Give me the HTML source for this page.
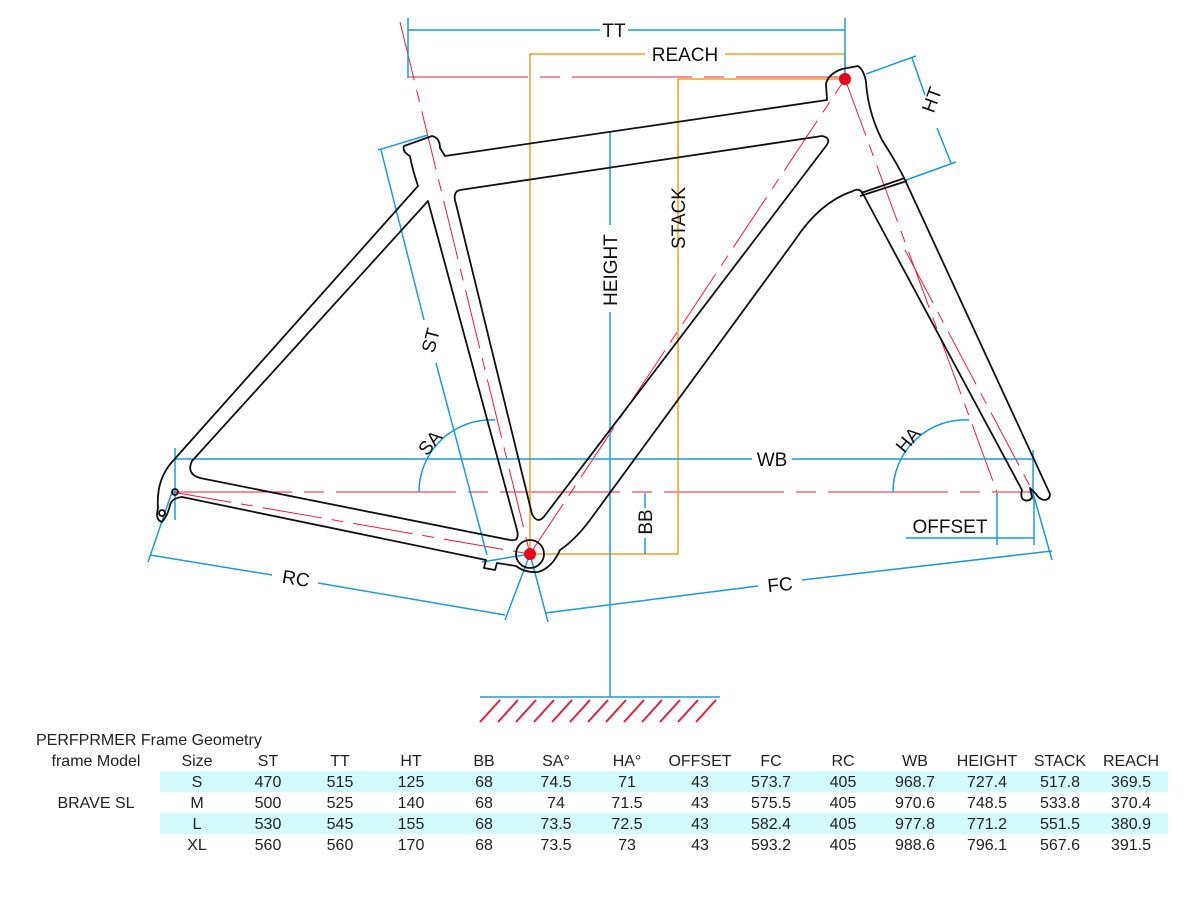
<!DOCTYPE html>
<html><head><meta charset="utf-8"><style>
body{margin:0;background:#fff;width:1200px;height:900px;overflow:hidden}
svg{position:absolute;left:0;top:0}
.t{font-family:"Liberation Sans Narrow","Liberation Sans",sans-serif;font-size:16px;fill:#222}
.l{font-family:"Liberation Sans",sans-serif;font-size:19px;fill:#111}
</style></head><body>
<svg width="1200" height="900" viewBox="0 0 1200 900">
<rect x="160" y="771" width="1008" height="21" fill="#d4fbfb"/>
<rect x="160" y="813" width="1008" height="21" fill="#d4fbfb"/>
<g fill="none" stroke-width="1.3">
<g stroke="#e0203a" stroke-width="1">
<line x1="172" y1="492" x2="1033" y2="492" stroke-dasharray="120,12,20,12"/>
<line x1="408" y1="77" x2="845" y2="77" stroke-dasharray="120,12,20,12"/>
<line x1="400" y1="22" x2="530" y2="554" stroke-dasharray="60,10,12,10"/>
<line x1="172" y1="492" x2="530" y2="554" stroke-dasharray="60,10,12,10"/>
<line x1="530" y1="554" x2="845" y2="79" stroke-dasharray="60,10,12,10"/>
<line x1="845" y1="79" x2="997" y2="492" stroke-dasharray="60,10,12,10"/>
<line x1="905" y1="250" x2="1033" y2="492" stroke-dasharray="60,10,12,10"/>
</g>
<g stroke="#f0a020" stroke-width="1.5">
<polyline points="645,54 530,54 530,554"/>
<polyline points="725,54 845,54 845,79"/>
<polyline points="530,554 678,554 678,79 845,79"/>
</g>
<g stroke="#1a9ad8" stroke-width="1.5">
<line x1="408" y1="30" x2="600" y2="30"/><line x1="628" y1="30" x2="845" y2="30"/>
<line x1="408" y1="18" x2="408" y2="78"/><line x1="845" y1="18" x2="845" y2="78"/>
<line x1="175" y1="459" x2="752" y2="459"/><line x1="792" y1="459" x2="1035" y2="459"/>
<line x1="175" y1="448" x2="175" y2="520"/>
<line x1="1033" y1="450" x2="1033" y2="500"/>
<line x1="610" y1="132" x2="610" y2="225"/><line x1="610" y1="312" x2="610" y2="697"/>
<line x1="645" y1="493" x2="645" y2="508"/><line x1="645" y1="538" x2="645" y2="554"/>
<line x1="378" y1="150" x2="428" y2="135"/>
<line x1="381" y1="150" x2="424" y2="320"/><line x1="436" y1="363" x2="487" y2="555"/>
<line x1="482" y1="562" x2="530" y2="554"/>
<line x1="172" y1="492" x2="148" y2="562"/>
<line x1="530" y1="554" x2="505" y2="620"/>
<line x1="530" y1="554" x2="548" y2="622"/>
<line x1="150" y1="555" x2="272" y2="575"/><line x1="318" y1="583" x2="505" y2="615"/>
<line x1="545" y1="613" x2="758" y2="586"/><line x1="802" y1="580" x2="1052" y2="551"/>
<line x1="1033" y1="493" x2="1052" y2="560"/>
<line x1="866" y1="74" x2="916" y2="56"/><line x1="906" y1="180" x2="956" y2="162"/>
<line x1="912" y1="58" x2="925" y2="95"/><line x1="937" y1="128" x2="951" y2="163"/>
<line x1="906" y1="538" x2="1034" y2="538"/>
<line x1="997" y1="493" x2="997" y2="545"/><line x1="1034" y1="500" x2="1034" y2="545"/>
<path d="M419 492 A72 72 0 0 1 495 420"/>
<path d="M893 492 A72 72 0 0 1 969 420"/>
</g>
<g stroke="#111" stroke-width="1.8" stroke-linejoin="round">
<path d="M445 156 L827 100 L826 84 Q828 74 842 69 L858 66 Q864 70 866 82 Q868 112 882 140 Q898 165 905 180 L1050 494 Q1050 500 1044 500 Q1039 499 1036 494 L1030 488 L1032 497 Q1030 502 1024 500 Q1020 498 1022 490 L862 192 Q858 188 853 191 Q820 202 795 240 L590 520 Q575 540 560 550 Q552 568 538 572 Q525 573 516 566 L497 563 L495 570 L484 568 L486 560 L182 497 Q172 498 170 505 Q168 515 162 522 Q155 520 158 508 Q156 480 172 462 L418 186 Q412 168 410 156 Q402 152 404 146 L432 136 Q440 138 440 148 Z"/>
<path d="M460 190 L822 136 Q832 138 826 146 L546 514 Q538 526 532 514 L456 204 Q452 192 460 190 Z"/>
<path d="M428 201 L517 530 Q520 542 510 540 L200 478 Q186 474 192 461 Z"/>
<path d="M860 196 L907 181 M861 193 L905 178"/>
<circle cx="530" cy="554" r="14"/>
<circle cx="162" cy="513" r="3"/>
<circle cx="175" cy="492" r="3"/>
</g>
</g>
<circle cx="530" cy="554" r="6" fill="#e8001c"/>
<circle cx="845" cy="79" r="6" fill="#e8001c"/>
<line x1="480" y1="697" x2="720" y2="697" stroke="#1a9ad8" stroke-width="1.5"/>
<g stroke="#e0203a" stroke-width="2">
<path d="M480 722 L500 700 M498 722 L518 700 M516 722 L536 700 M534 722 L554 700 M552 722 L572 700 M570 722 L590 700 M588 722 L608 700 M606 722 L626 700 M624 722 L644 700 M642 722 L662 700 M660 722 L680 700 M678 722 L698 700 M696 722 L716 700"/>
</g>
<text class="l" x="614" y="37" text-anchor="middle">TT</text>
<text class="l" x="685" y="61" text-anchor="middle">REACH</text>
<text class="l" x="772" y="466" text-anchor="middle">WB</text>
<text class="l" x="950" y="533" text-anchor="middle">OFFSET</text>
<text class="l" x="296" y="585" text-anchor="middle" transform="rotate(9 296 578)">RC</text>
<text class="l" x="780" y="591" text-anchor="middle" transform="rotate(-6 780 584)">FC</text>
<text class="l" transform="translate(617 270) rotate(-90)" text-anchor="middle">HEIGHT</text>
<text class="l" transform="translate(685 218) rotate(-90)" text-anchor="middle">STACK</text>
<text class="l" transform="translate(652 522) rotate(-90)" text-anchor="middle">BB</text>
<text class="l" transform="translate(437 342) rotate(-75)" text-anchor="middle">ST</text>
<text class="l" transform="translate(938 102) rotate(-70)" text-anchor="middle">HT</text>
<text class="l" transform="translate(435 447) rotate(-50)" text-anchor="middle">SA</text>
<text class="l" transform="translate(913 444) rotate(-50)" text-anchor="middle">HA</text>
<text class="t" x="36" y="745">PERFPRMER  Frame Geometry</text>
<g class="t" text-anchor="middle">
<text x="96" y="766">frame Model</text><text x="197" y="766">Size</text><text x="268" y="766">ST</text><text x="340" y="766">TT</text><text x="411" y="766">HT</text><text x="484" y="766">BB</text><text x="556" y="766">SA°</text><text x="627" y="766">HA°</text><text x="700" y="766">OFFSET</text><text x="771" y="766">FC</text><text x="843" y="766">RC</text><text x="915" y="766">WB</text><text x="987" y="766">HEIGHT</text><text x="1060" y="766">STACK</text><text x="1131" y="766">REACH</text>
<text x="197" y="787">S</text><text x="268" y="787">470</text><text x="340" y="787">515</text><text x="411" y="787">125</text><text x="484" y="787">68</text><text x="556" y="787">74.5</text><text x="627" y="787">71</text><text x="700" y="787">43</text><text x="771" y="787">573.7</text><text x="843" y="787">405</text><text x="915" y="787">968.7</text><text x="987" y="787">727.4</text><text x="1060" y="787">517.8</text><text x="1131" y="787">369.5</text>
<text x="96" y="808">BRAVE SL</text>
<text x="197" y="808">M</text><text x="268" y="808">500</text><text x="340" y="808">525</text><text x="411" y="808">140</text><text x="484" y="808">68</text><text x="556" y="808">74</text><text x="627" y="808">71.5</text><text x="700" y="808">43</text><text x="771" y="808">575.5</text><text x="843" y="808">405</text><text x="915" y="808">970.6</text><text x="987" y="808">748.5</text><text x="1060" y="808">533.8</text><text x="1131" y="808">370.4</text>
<text x="197" y="829">L</text><text x="268" y="829">530</text><text x="340" y="829">545</text><text x="411" y="829">155</text><text x="484" y="829">68</text><text x="556" y="829">73.5</text><text x="627" y="829">72.5</text><text x="700" y="829">43</text><text x="771" y="829">582.4</text><text x="843" y="829">405</text><text x="915" y="829">977.8</text><text x="987" y="829">771.2</text><text x="1060" y="829">551.5</text><text x="1131" y="829">380.9</text>
<text x="197" y="850">XL</text><text x="268" y="850">560</text><text x="340" y="850">560</text><text x="411" y="850">170</text><text x="484" y="850">68</text><text x="556" y="850">73.5</text><text x="627" y="850">73</text><text x="700" y="850">43</text><text x="771" y="850">593.2</text><text x="843" y="850">405</text><text x="915" y="850">988.6</text><text x="987" y="850">796.1</text><text x="1060" y="850">567.6</text><text x="1131" y="850">391.5</text>
</g>
</svg>
</body></html>
